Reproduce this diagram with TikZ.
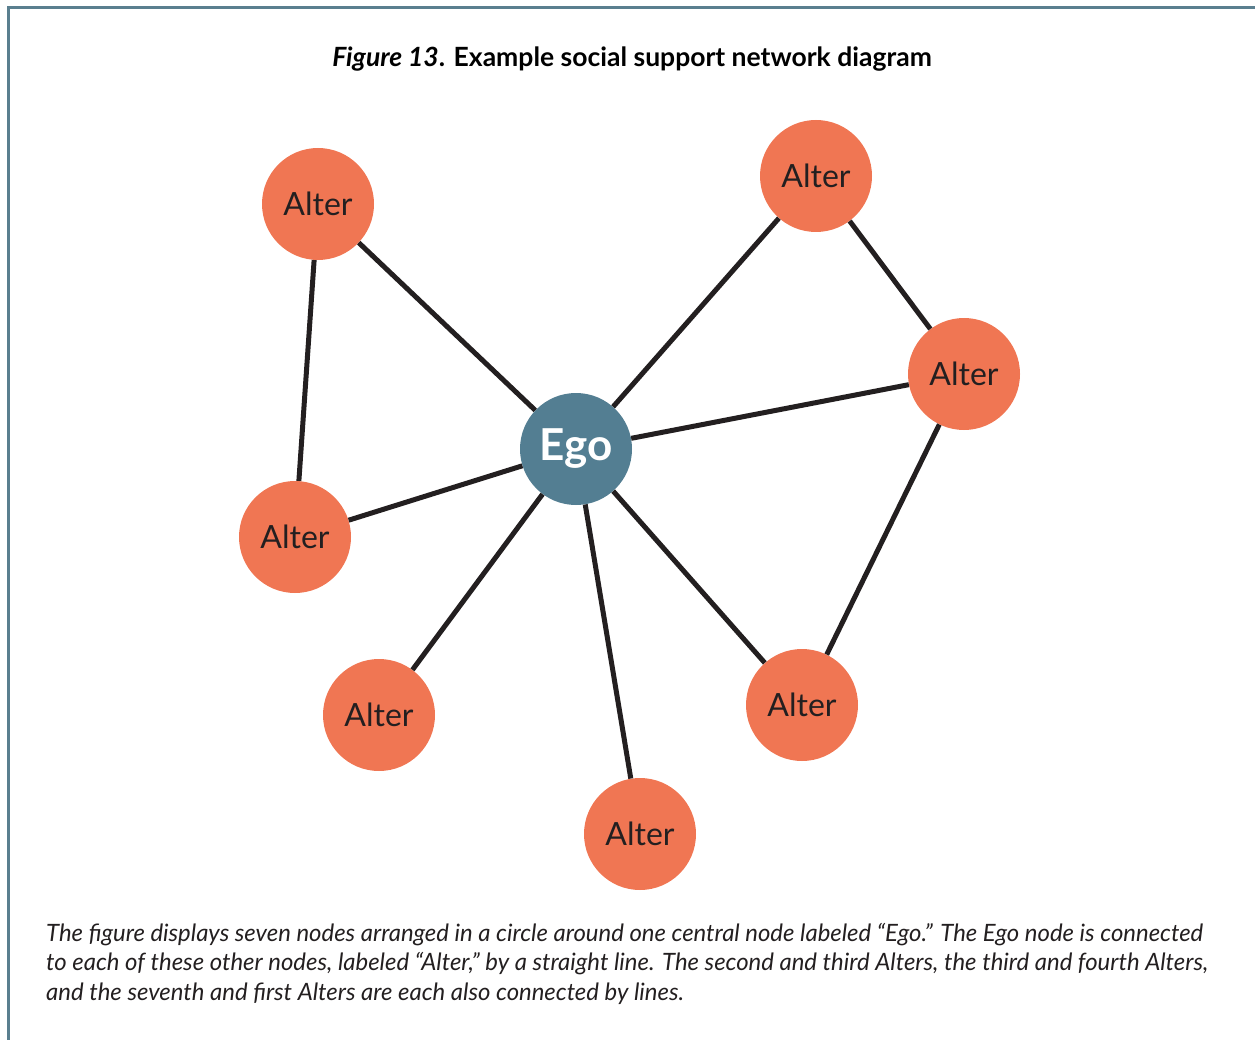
\documentclass[tikz,border=0pt]{standalone}
\usepackage{fontspec}
\setmainfont{Lato}

\definecolor{egoblue}{HTML}{537E92}
\definecolor{altersalmon}{HTML}{F07653}
\definecolor{tieblack}{HTML}{231F20}
\definecolor{framegray}{HTML}{5A7F8F}

\tikzset{
	alter/.style={circle, fill=altersalmon, minimum size=112pt, inner sep=0pt, text=tieblack, font=\fontsize{32}{38}\selectfont},
	ego/.style={circle, fill=egoblue, minimum size=112pt, inner sep=0pt, text=white, font=\bfseries\fontsize{44}{50}\selectfont},
	tie/.style={line width=5pt, draw=tieblack},
}

\begin{document}
\begin{tikzpicture}[x=1pt,y=-1pt]
		\useasboundingbox (0,0) rectangle (1255,1040);
		% frame
		\draw[framegray, line width=3pt] (1255,7.5) -- (8.5,7.5) -- (8.5,1040);
		\node (title) at (632,67) [anchor=base] {\fontsize{26.5}{32}\selectfont\bfseries\itshape Figure 13\upshape. Example social support network diagram};
		
		% nodes
		\node[ego] (ego) at (576,449) {Ego};
		\node[alter] (alterA) at (318,204) {Alter};
		\node[alter] (alterB) at (816,176) {Alter};
		\node[alter] (alterC) at (964,374) {Alter};
		\node[alter] (alterD) at (802,705) {Alter};
		\node[alter] (alterE) at (640,834) {Alter};
		\node[alter] (alterF) at (379,715) {Alter};
		\node[alter] (alterG) at (295,537) {Alter};
		
		% ties
		\foreach \a in {A,B,C,D,E,F,G}
			\draw[tie] (ego) -- (alter\a);
		\draw[tie] (alterA) -- (alterG);
		\draw[tie] (alterB) -- (alterC);
		\draw[tie] (alterC) -- (alterD);
		
		% caption (base = last line)
		\node (caption) at (46,1000) [anchor=base west, align=left, inner sep=0pt, text=tieblack, font=\fontsize{23.9}{29.5}\selectfont\itshape] {The figure displays seven nodes arranged in a circle around one central node labeled “Ego.” The Ego node is connected\\to each of these other nodes, labeled “Alter,” by a straight line. The second and third Alters, the third and fourth Alters,\\and the seventh and first Alters are each also connected by lines.};
	\end{tikzpicture}
\end{document}
